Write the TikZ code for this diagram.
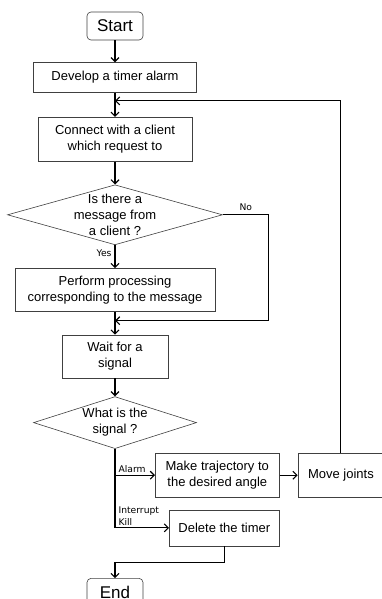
\documentclass[tikz,border=0pt]{standalone}
\usepackage{fontspec}
\setmainfont{Liberation Sans}
\newfontfamily\labelfont{DejaVu Sans}
\usepackage{tikz}
\usetikzlibrary{arrows.meta, positioning, shapes.geometric}

\begin{document}
\begin{tikzpicture}[
    x=1pt, y=-1pt,
    >={Straight Barb[length=4pt,width=8pt,line width=1.1pt]},
    font=\fontsize{13}{16}\selectfont,
    block/.style={
      rectangle,
      draw=black!75,
      line width=0.6pt,
      align=center,
      inner sep=1pt
    },
    term/.style={
      block,
      rounded corners=4pt,
      minimum width=56pt,
      minimum height=28pt,
      font=\fontsize{17}{20}\selectfont
    },
    decision/.style={
      diamond,
      draw=black!75,
      line width=0.6pt,
      align=center,
      inner sep=-6pt
    },
    tag/.style={
      font=\labelfont\fontsize{9.2}{12}\selectfont,
      align=left,
      inner sep=1pt
    }
  ]
    \useasboundingbox (0,0) rectangle (382,599);
    \node[term] (start) at (115,26) {Start};
    \node[block, below=22pt of start, minimum width=163pt, minimum height=30pt] (dev) {Develop a timer alarm};
    \node[block, below=24pt of dev, minimum width=154pt, minimum height=44pt] (conn) {Connect with a client\\which request to};
    \node[decision, aspect=3.58, below=23pt of conn, minimum width=215pt, minimum height=60pt] (msg) {Is there a\\message from\\a client ?};
    \node[block, below=23pt of msg, minimum width=200pt, minimum height=43pt] (proc) {Perform processing\\corresponding to the message};
    \node[block, below=23pt of proc, minimum width=106pt, minimum height=43pt] (wait) {Wait for a\\signal};
    \node[decision, aspect=3.13, below=18pt of wait, minimum width=163pt, minimum height=52pt] (sig) {What is the\\signal ?};
    \node[block, below right=4pt and 40pt of sig.south, minimum width=124pt, minimum height=44pt] (traj) {Make trajectory to\\the desired angle};
    \node[block, right=18pt of traj, minimum width=86pt, minimum height=44pt] (move) {Move joints};
    \node[block, below=12pt of traj.south east, anchor=north east, minimum width=110pt, minimum height=36pt] (del) {Delete the timer};
    \coordinate (endtop) at (del.south -| sig.south);
    \node[term, below=32pt of endtop] (end) {End};

    \coordinate[below=8pt of dev] (loopin);
    \coordinate[below=9pt of proc] (merge);

    \begin{scope}[->, line width=1.1pt]
      \draw (start) -- (dev);
      \draw (dev) -- (conn);
      \draw (conn) -- (msg);
      \draw (msg) -- node[tag, left, pos=0.35, xshift=-2pt] {Yes} (proc);
      \draw (msg.east) -- node[tag, above, pos=0.5, yshift=3pt] {No} ++(46,0) |- (merge);
      \draw (proc) -- (wait);
      \draw (wait) -- (sig);
      \draw (sig.south) |- node[tag, above right, pos=0.5, xshift=2pt, yshift=1pt] {Alarm} (traj.west);
      \draw (sig.south) |- node[tag, above right, pos=0.5, xshift=2pt, yshift=1pt] {Interrupt\\Kill} (del.west);
      \draw (traj) -- (move);
      \draw (move.north) |- (loopin);
      \draw (del.south) -- ++(0,16) -| (end.north);
    \end{scope}
  \end{tikzpicture}
\end{document}
